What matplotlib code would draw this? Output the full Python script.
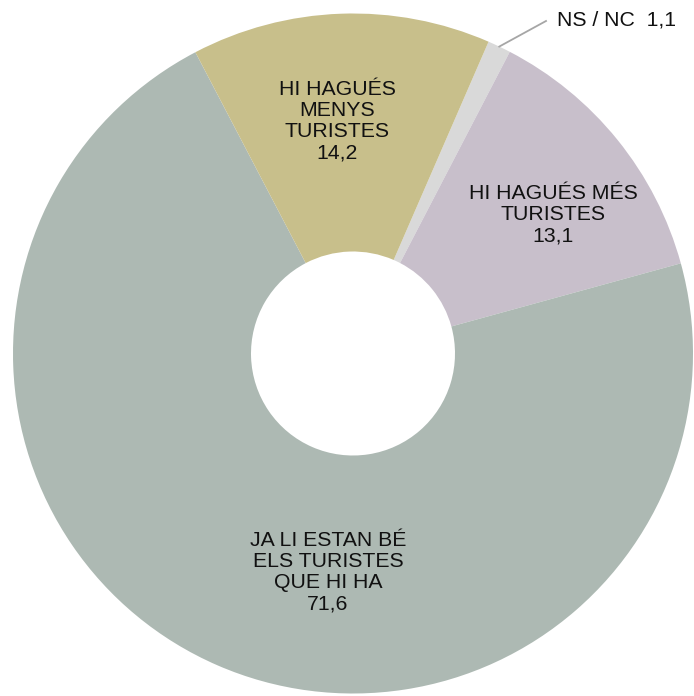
import matplotlib.pyplot as plt
import numpy as np

plt.rcParams['font.family'] = ['Liberation Sans', 'DejaVu Sans']

categories = ['NS / NC', 'HI HAGUÉS MÉS\nTURISTES', 'JA LI ESTAN BÉ\nELS TURISTES\nQUE HI HA',
              'HI HAGUÉS\nMENYS\nTURISTES']
values = [1.1, 13.1, 71.6, 14.2]
colors = ['#d9d9d9', '#c8bfcb', '#adb9b3', '#c8bf8b']

# label positions in pixels (from top-left)
label_pos = [(557, 20), (553, 215), (328, 572), (337, 121)]

W, H = 694, 696
fig = plt.figure(figsize=(W / 100, H / 100), dpi=100)
ax = fig.add_axes([0, 0, 1, 1])

cx, cy, R = 353, H - 353.5, 340
wedges, _ = ax.pie(values, colors=colors, startangle=66.5, counterclock=False,
                   radius=R, center=(cx, cy),
                   wedgeprops=dict(width=R * 0.70, linewidth=0))
ax.set_xlim(0, W)
ax.set_ylim(0, H)
ax.axis('off')


def fmt(v):
    return f'{v:.1f}'.replace('.', ',')


for i, (cat, v) in enumerate(zip(categories, values)):
    px, py = label_pos[i]
    if i == 0:
        w = wedges[i]
        mid = np.deg2rad((w.theta1 + w.theta2) / 2)
        x0 = cx + R * np.cos(mid)
        y0 = cy + R * np.sin(mid)
        ax.plot([x0, px - 11], [y0, H - py - 1], color='#a6a6a6', lw=1.3)
        ax.text(px, H - py, f'{cat}  {fmt(v)}', ha='left', va='center',
                fontsize=15.3, color='#111111')
    else:
        ax.text(px, H - py, f'{cat}\n{fmt(v)}', ha='center', va='center',
                fontsize=15.3, linespacing=1.15, color='#111111')

fig.savefig('out.png', dpi=100)
